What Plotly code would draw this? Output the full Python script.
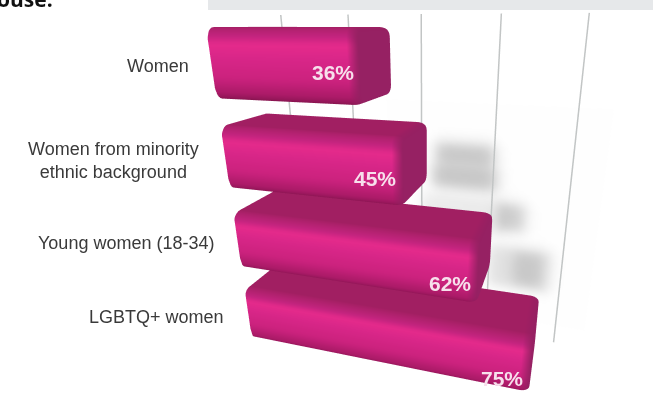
import numpy as np
import plotly.graph_objects as go

categories = ["Women", "Women from minority<br>ethnic background", "Young women (18-34)", "LGBTQ+ women"]
values = [36, 45, 62, 75]
grid_values = [0, 20, 40, 60, 80]

W, H = 653, 394
BAR_H = 0.72      # bar height in row units
BAR_D = 1.3       # bar depth
ROW_Z = [3.5, 2.5, 1.5, 0.5]
WALL_Y = 2.037

# soft shadows thrown on the back wall: value from/to, height from/to, strength
shadow_bands = [
    (44, 60, 2.23, 2.49, 58),
    (43, 61, 1.91, 2.20, 58),
    (40, 64, 1.33, 1.80, 20),
    (62, 69, 1.40, 1.76, 50),
    (60, 77, 0.58, 1.17, 30),
    (67, 75, 0.63, 1.12, 26),
]
LIT = dict(ambient=1, diffuse=0, specular=0, roughness=1, fresnel=0)


def hex2rgb(c):
    c = c.lstrip("#")
    return np.array([int(c[i:i + 2], 16) for i in (0, 2, 4)], float)


def ramp(stops, t):
    ts = [s[0] for s in stops]
    cols = np.array([hex2rgb(s[1]) for s in stops])
    return np.array([np.interp(t, ts, cols[:, i]) for i in range(3)])


FRONT = [(0, "#c4247f"), (0.14, "#e62b8c"), (0.36, "#da2789"), (0.75, "#cb227e"), (1, "#ad1b69")]
TOP = hex2rgb("#a11f62")
UNDER = hex2rgb("#7a1346")
END = hex2rgb("#962163")


def rgb(c):
    return "rgb(%d,%d,%d)" % tuple(c)


def bar_profile(zc):
    """Rounded cross-section of a bar: list of (y, z, colour)."""
    hz = BAR_H / 2
    ry, rz = 0.14, 0.085
    pts = []
    seg = 5

    def corner(cy, cz, a0, a1, c0, c1):
        for k in range(seg + 1):
            t = k / seg
            a = np.radians(a0 + (a1 - a0) * t)
            pts.append((cy + ry * np.cos(a), cz + rz * np.sin(a), c0 + (c1 - c0) * t))

    f_top = ramp(FRONT, 0)
    f_bot = ramp(FRONT, 1)
    # back-top, front-top, flat front, front-bottom, back-bottom
    corner(BAR_D - ry, zc + hz - rz, 0, 90, TOP, TOP)
    corner(ry, zc + hz - rz, 90, 180, TOP, f_top)
    for k in range(1, 18):
        t = k / 18
        pts.append((0.0, zc + hz - rz - t * (2 * hz - 2 * rz), ramp(FRONT, t)))
    corner(ry, zc - hz + rz, 180, 270, f_bot, UNDER)
    corner(BAR_D - ry, zc - hz + rz, 270, 360, UNDER, UNDER)
    return pts


def bar_mesh(value, zc):
    prof = bar_profile(zc)
    n = len(prof)
    rx = 2.2
    steps = 6
    stations = [(0.0, 1.0, 0.0), (rx * 0.5, 0.0, 0.0), (value - rx, 0.0, 0.0)]
    for k in range(1, steps + 1):
        a = k / steps * np.pi / 2
        stations.append((value - rx + rx * np.sin(a), 1 - np.cos(a), np.sin(a)))
    xs, ys, zs, cols, ii, jj, kk = [], [], [], [], [], [], []
    mid = BAR_D / 2
    for x, ins, mix in stations:
        for y, z, c in prof:
            xs.append(x)
            ys.append(mid + (y - mid) * (1 - ins * 0.1))
            zs.append(zc + (z - zc) * (1 - ins * 0.12))
            cols.append(rgb(c * (1 - mix) + END * mix))
    for s in range(len(stations) - 1):
        for p in range(n):
            a = s * n + p
            b = s * n + (p + 1) % n
            c = a + n
            d = b + n
            ii += [a, b]
            jj += [b, d]
            kk += [c, c]
    # flat end cap
    xs.append(value)
    ys.append(mid)
    zs.append(zc)
    cols.append(rgb(END))
    centre = len(xs) - 1
    last = (len(stations) - 1) * n
    for p in range(n):
        ii.append(centre)
        jj.append(last + p)
        kk.append(last + (p + 1) % n)
    return go.Mesh3d(x=xs, y=ys, z=zs, i=ii, j=jj, k=kk, vertexcolor=cols,
                     flatshading=False, hoverinfo="skip", showscale=False, lighting=LIT)


def wall_mesh():
    vs = np.linspace(30, 88, 71)
    zs = np.linspace(0.1, 3.0, 71)
    VV, ZZ = np.meshgrid(vs, zs)
    shade = np.zeros(VV.shape)
    for v0, v1, z0, z1, amt in shadow_bands:
        sx, sz = 2.2, 0.1
        shade += amt * 0.25 * (np.tanh((VV - v0) / sx) - np.tanh((VV - v1) / sx)) * (np.tanh((ZZ - z0) / sz) - np.tanh((ZZ - z1) / sz))
    g = np.clip(255 - shade, 0, 255)
    nr, nc = g.shape
    cols = [rgb((g[r, c],) * 3) for r in range(nr) for c in range(nc)]
    ii, jj, kk = [], [], []
    for r in range(nr - 1):
        for c in range(nc - 1):
            a = r * nc + c
            ii += [a, a + 1]
            jj += [a + 1, a + nc + 1]
            kk += [a + nc, a + nc]
    return go.Mesh3d(x=VV.ravel(), y=np.full(VV.size, WALL_Y + 0.03), z=ZZ.ravel(), i=ii, j=jj, k=kk,
                     vertexcolor=cols, hoverinfo="skip", showscale=False, lighting=LIT)


fig = go.Figure()
fig.add_trace(wall_mesh())
for v in grid_values:
    fig.add_trace(go.Scatter3d(x=[v, v], y=[WALL_Y, WALL_Y], z=[4.0, -0.15], mode="lines",
                               line=dict(color="#c2c5c5", width=3), hoverinfo="skip", showlegend=False))
for v, z in zip(values, ROW_Z):
    fig.add_trace(bar_mesh(v, z))

hidden = dict(visible=False, showgrid=False, zeroline=False, showspikes=False)
fig.update_layout(
    width=W, height=H, margin=dict(l=0, r=0, t=0, b=0), paper_bgcolor="white", showlegend=False,
    scene=dict(
        domain=dict(x=[199 / W, 1], y=[0, 1]),
        xaxis=dict(range=[-1.69, 98.31], **hidden),
        yaxis=dict(range=[-1.5, 2.5], **hidden),
        zaxis=dict(range=[-2, 6], **hidden),
        aspectmode="manual",
        aspectratio=dict(x=1.8845, y=1.138, z=3.2528),
        camera=dict(eye=dict(x=0.5436, y=-1.8586, z=0.7616),
                    center=dict(x=-0.0178, y=0.0459, z=0.0464),
                    up=dict(x=-0.083, y=-0.2824, z=32.88),
                    projection=dict(type="perspective")),
    ),
)

fig.add_shape(type="rect", xref="paper", yref="paper", x0=208 / W, x1=1, y0=1 - 10 / H, y1=1,
              fillcolor="#e6e8ea", line_width=0, layer="above")


def px_note(text, x, y, anchor, size, color, bold=False, family="Liberation Sans, Arial, sans-serif"):
    fig.add_annotation(text=("<b>%s</b>" % text) if bold else text, xref="paper", yref="paper",
                       x=x / W, y=1 - y / H, xanchor=anchor, yanchor="middle", showarrow=False,
                       align="center", font=dict(family=family, size=size, color=color))


px_note("ouse.", 55, -1, "right", 21, "#111111", bold=True, family="Open Sans, sans-serif")
label_pos = [(191, 66), (201, 160), (216, 243), (226, 317)]
for cat, (x, y) in zip(categories, label_pos):
    px_note(cat, x, y, "right", 18, "#3a3a3a")
pct_pos = [(333, 73), (375, 178), (450, 283), (502, 378)]
for v, (x, y) in zip(values, pct_pos):
    px_note("%d%%" % v, x, y, "center", 21, "#f7e0ec", bold=True)

fig.write_html("out.html")
